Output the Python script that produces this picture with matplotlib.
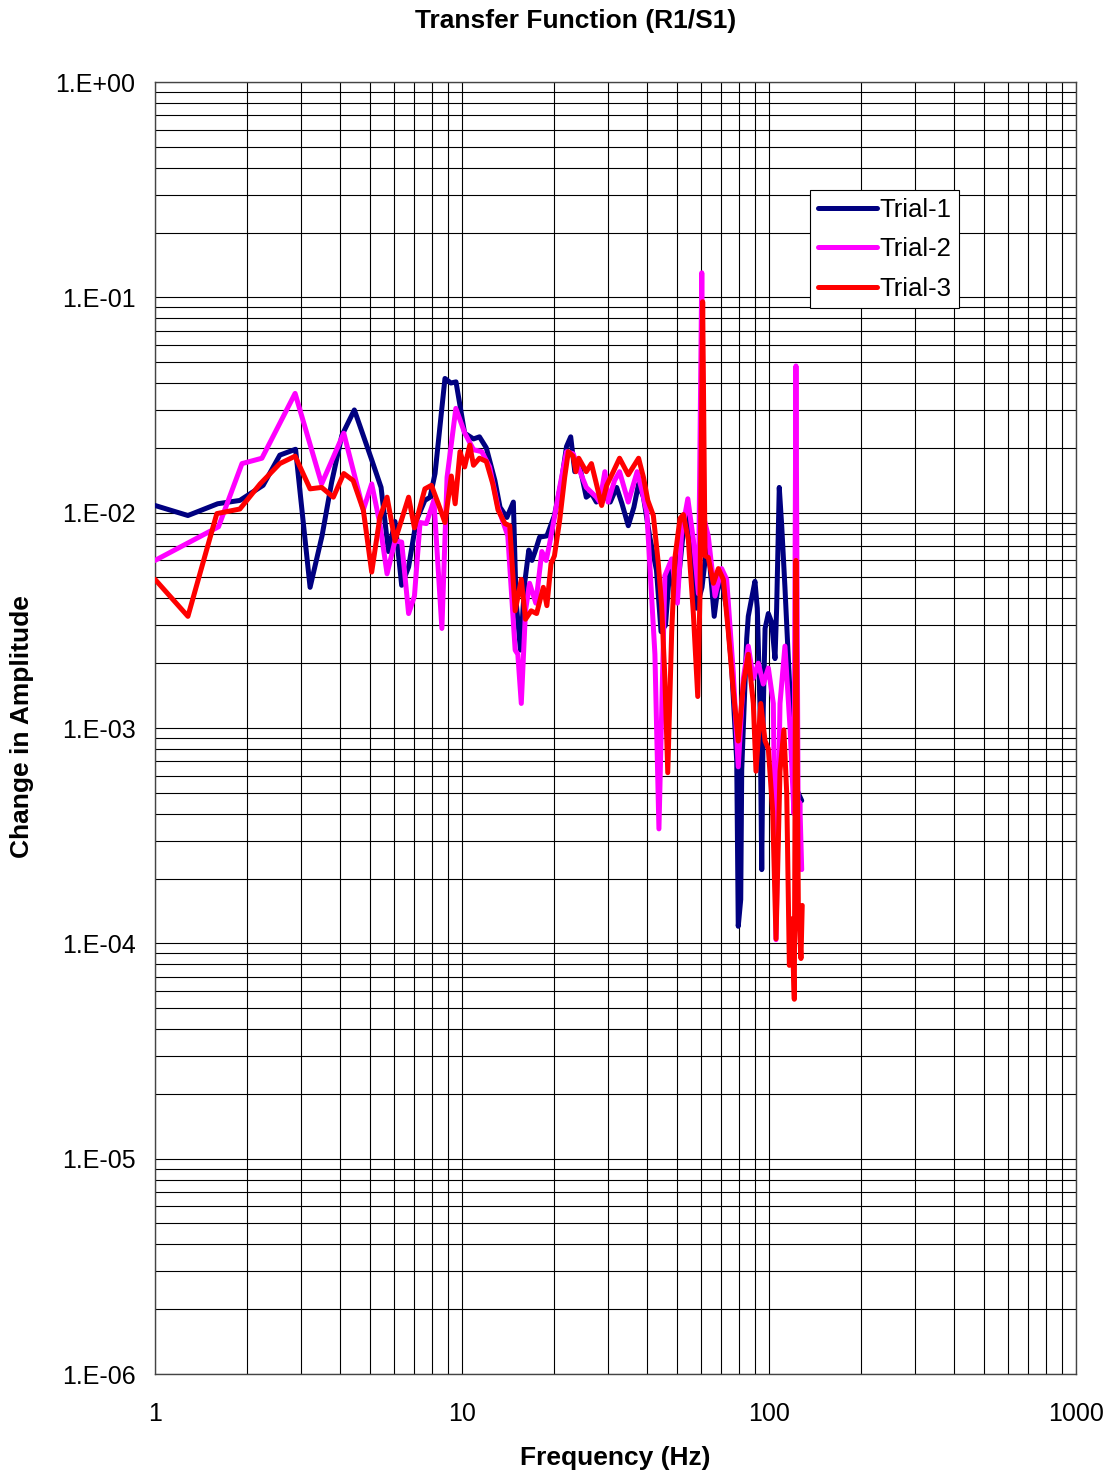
import matplotlib
matplotlib.use("Agg")
import matplotlib.pyplot as plt
from matplotlib.ticker import FixedLocator, FixedFormatter, NullFormatter
import numpy as np

plt.rcParams['font.family'] = ['Liberation Sans', 'DejaVu Sans']

# ---------------- data ----------------
freq1 = [1.0, 1.28, 1.6, 1.89, 2.25, 2.55, 2.87, 3.2, 3.5, 3.76, 4.06, 4.46, 5.08, 5.45,
         5.76, 6.05, 6.36, 6.7, 7.1, 7.57, 7.87, 8.17, 8.8, 9.2, 9.56, 10.2, 10.9, 11.4,
         12.0, 12.8, 13.3, 14.0, 14.7, 15.0, 15.5, 16.0, 16.5, 16.9, 17.3, 17.9, 18.9,
         20.0, 21.1, 21.9, 22.6, 23.3, 24.2, 25.4, 26.4, 27.4, 28.9, 30.4, 31.9, 33.2,
         34.8, 36.3, 37.6, 39.0, 40.9, 43.0, 44.5, 46.0, 47.5, 50.0, 53.3, 55.0, 58.0,
         60.5, 62.7, 64.0, 66.3, 69.2, 72.8, 75.6, 78.5, 79.4, 80.9, 81.5, 84.6, 85.6,
         87.8, 90.0, 91.6, 93.5, 94.7, 95.8, 97.1, 99.5, 102.0, 104.6, 105.9, 108.0,
         110.0, 112.7, 115.6, 118.6, 121.5, 127.8]
amp1 = [0.0108, 0.0097, 0.011, 0.0114, 0.0134, 0.0185, 0.0197, 0.0045, 0.0078, 0.0138,
        0.0228, 0.030, 0.0176, 0.0131, 0.0066, 0.0091, 0.0046, 0.0056, 0.0092, 0.0114,
        0.0118, 0.0152, 0.042, 0.040, 0.0405, 0.0234, 0.022, 0.0225, 0.020, 0.0141,
        0.0106, 0.0095, 0.0112, 0.0039, 0.0023, 0.0047, 0.0067, 0.0060, 0.0066, 0.0077,
        0.0078, 0.0097, 0.0141, 0.0203, 0.0225, 0.0155, 0.0163, 0.0118, 0.0123, 0.0112,
        0.0121, 0.0112, 0.0131, 0.011, 0.0087, 0.0106, 0.0136, 0.0118, 0.0077, 0.0054,
        0.0028, 0.0030, 0.0055, 0.0040, 0.0099, 0.0080, 0.0036, 0.0045, 0.0070, 0.0060,
        0.0033, 0.0053, 0.0036, 0.0019, 0.0007, 0.00012, 0.00016, 0.00064, 0.0026,
        0.0033, 0.0040, 0.0048, 0.0036, 0.00122, 0.00022, 0.00122, 0.0029, 0.0034,
        0.0031, 0.0021, 0.0036, 0.0131, 0.0087, 0.0045, 0.0021, 0.001, 0.00054, 0.00046]

freq2 = [1.0, 1.61, 1.92, 2.23, 2.86, 3.49, 4.12, 4.77, 5.08, 5.4, 5.7, 6.05, 6.36, 6.7,
         7.0, 7.3, 7.65, 8.1, 8.6, 8.94, 9.55, 10.2, 10.9, 11.6, 12.3, 13.1, 14.1, 14.9,
         15.2, 15.6, 16.1, 16.6, 17.4, 18.2, 18.8, 19.3, 20.0, 20.8, 21.9, 23.0, 23.9,
         25.4, 27.4, 28.1, 29.2, 29.9, 31.4, 32.6, 34.8, 37.2, 38.5, 40.0, 42.5, 43.8,
         45.8, 48.2, 50.3, 51.9, 54.4, 56.7, 58.9, 60.4, 61.4, 63.4, 66.7, 70.1, 72.8,
         76.5, 79.4, 82.5, 85.6, 88.9, 92.3, 95.8, 99.5, 103.3, 105.4, 108.6, 112.7,
         117.1, 120.6, 122.4, 124.6, 126.0, 127.8]
amp2 = [0.006, 0.0086, 0.0169, 0.0179, 0.0358, 0.0136, 0.0234, 0.0103, 0.0136, 0.0089,
        0.0052, 0.0074, 0.0073, 0.0034, 0.0041, 0.009, 0.0089, 0.0114, 0.0029, 0.0146,
        0.0305, 0.0235, 0.0196, 0.0192, 0.0163, 0.0106, 0.0078, 0.0023, 0.0022, 0.0013,
        0.0035, 0.0047, 0.0038, 0.0066, 0.006, 0.0072, 0.0095, 0.0131, 0.0192, 0.0188,
        0.0163, 0.0131, 0.0118, 0.0112, 0.0155, 0.0112, 0.0141, 0.0155, 0.0112, 0.0155,
        0.0128, 0.010, 0.0022, 0.00034, 0.0051, 0.0061, 0.0038, 0.008, 0.0116, 0.0075,
        0.0042, 0.13, 0.0094, 0.0078, 0.0041, 0.0055, 0.0049, 0.0018, 0.00066, 0.0017,
        0.0024, 0.0017, 0.0020, 0.0016, 0.0019, 0.0013, 0.000104, 0.0013, 0.0024, 0.001,
        0.0004, 0.048, 0.00026, 0.00045, 0.00022]

freq3 = [1.0, 1.28, 1.59, 1.89, 2.2, 2.55, 2.86, 3.2, 3.49, 3.81, 4.12, 4.42, 4.77, 5.08,
         5.4, 5.7, 6.05, 6.7, 7.0, 7.57, 7.95, 8.37, 8.8, 9.23, 9.5, 9.85, 10.2, 10.6,
         10.9, 11.4, 12.0, 12.6, 13.1, 13.8, 14.3, 14.9, 15.6, 16.1, 16.8, 17.5, 18.4,
         18.9, 19.5, 20.0, 20.8, 21.6, 22.2, 23.0, 23.5, 24.0, 25.4, 26.4, 27.3, 28.5,
         29.6, 31.1, 32.6, 34.8, 37.6, 39.0, 40.3, 42.0, 43.6, 44.7, 45.8, 46.8, 48.2,
         49.4, 51.3, 52.6, 54.6, 56.7, 58.6, 59.6, 60.8, 61.9, 63.4, 65.9, 68.4, 71.0,
         73.7, 76.5, 79.4, 82.5, 85.6, 88.9, 90.7, 94.0, 97.1, 99.5, 102.8, 105.4, 108.6,
         111.8, 114.2, 116.5, 118.6, 120.9, 122.4, 124.6, 127.1, 128.3]
amp3 = [0.0049, 0.0033, 0.0099, 0.0104, 0.0136, 0.0169, 0.0183, 0.0129, 0.0131, 0.0118,
        0.0152, 0.0141, 0.0103, 0.0053, 0.0095, 0.0118, 0.0074, 0.0118, 0.0085, 0.0129,
        0.0134, 0.011, 0.009, 0.0148, 0.011, 0.0192, 0.0163, 0.0206, 0.0166, 0.0179,
        0.0173, 0.0136, 0.0103, 0.0089, 0.0087, 0.0035, 0.0049, 0.0032, 0.0035, 0.0034,
        0.0045, 0.0037, 0.0058, 0.0063, 0.0092, 0.0146, 0.0192, 0.0183, 0.0155, 0.0179,
        0.0155, 0.0169, 0.0139, 0.0108, 0.0134, 0.0155, 0.0179, 0.0150, 0.0179, 0.0146,
        0.0114, 0.0097, 0.0058, 0.0037, 0.0017, 0.00062, 0.0028, 0.0062, 0.0094, 0.0098,
        0.0075, 0.0034, 0.0014, 0.0042, 0.0954, 0.0063, 0.0062, 0.0047, 0.0055, 0.0049,
        0.0028, 0.0015, 0.00087, 0.0016, 0.0022, 0.0013, 0.00063, 0.0013, 0.00087,
        0.0008, 0.00041, 0.000105, 0.00063, 0.00098, 0.0005, 0.000079, 0.00013,
        0.000055, 0.006, 0.00015, 0.000085, 0.00015]

series_labels = ["Trial-1", "Trial-2", "Trial-3"]
series_colors = ["#000080", "#FF00FF", "#FF0000"]
x_ticks = [1, 10, 100, 1000]
x_tick_labels = ["1", "10", "100", "1000"]
y_ticks = [1e-6, 1e-5, 1e-4, 1e-3, 1e-2, 1e-1, 1e0]
y_tick_labels = ["1.E-06", "1.E-05", "1.E-04", "1.E-03", "1.E-02", "1.E-01", "1.E+00"]

# ---------------- figure ----------------
W, H = 1114, 1478
fig = plt.figure(figsize=(W / 100, H / 100), dpi=100)
ax = fig.add_axes([155 / W, 1 - 1374 / H, (1076 - 155) / W, (1374 - 82) / H])

for f, a, lab, col in zip([freq1, freq2, freq3], [amp1, amp2, amp3], series_labels, series_colors):
    ax.plot(f, a, color=col, lw=3.6, label=lab, solid_joinstyle='round',
            solid_capstyle='round', zorder=3)

ax.set_xscale('log')
ax.set_yscale('log')

x_minor = [m * 10 ** e for e in range(0, 3) for m in range(2, 10)]
y_minor = [m * 10.0 ** e for e in range(-6, 0) for m in range(2, 10)]
ax.xaxis.set_major_locator(FixedLocator(x_ticks))
ax.xaxis.set_major_formatter(FixedFormatter(x_tick_labels))
ax.xaxis.set_minor_locator(FixedLocator(x_minor))
ax.xaxis.set_minor_formatter(NullFormatter())
ax.yaxis.set_major_locator(FixedLocator(y_ticks))
ax.yaxis.set_major_formatter(FixedFormatter(y_tick_labels))
ax.yaxis.set_minor_locator(FixedLocator(y_minor))
ax.yaxis.set_minor_formatter(NullFormatter())
ax.set_xlim(1, 1000)
ax.set_ylim(1e-6, 1)

ax.grid(True, which='both', color='black', lw=0.8)
ax.set_axisbelow(True)
ax.tick_params(which='both', length=0)
ax.tick_params(axis='y', labelsize=18, pad=14)
ax.tick_params(axis='x', labelsize=18, pad=20)
for s in ax.spines.values():
    s.set_color('#444444')
    s.set_linewidth(1.0)

leg = ax.legend(loc='upper left', bbox_to_anchor=(810 / W, 1 - 190 / H),
                bbox_transform=fig.transFigure, fontsize=18.5, frameon=True,
                fancybox=False, edgecolor='black', framealpha=1, borderaxespad=0,
                handlelength=2.3, handletextpad=0.1, labelspacing=0.6, borderpad=0.3)
leg.get_frame().set_linewidth(0.8)

fig.text(576 / W, 1 - 21 / H, "Transfer Function (R1/S1)", ha='center', va='center',
         fontsize=19, fontweight='bold')
fig.text(615 / W, 1 - 1458 / H, "Frequency (Hz)", ha='center', va='center',
         fontsize=19, fontweight='bold')
fig.text(22 / W, 1 - 727 / H, "Change in Amplitude", ha='center', va='center',
         rotation=90, fontsize=19, fontweight='bold')

fig.savefig("out.png", dpi=100)
